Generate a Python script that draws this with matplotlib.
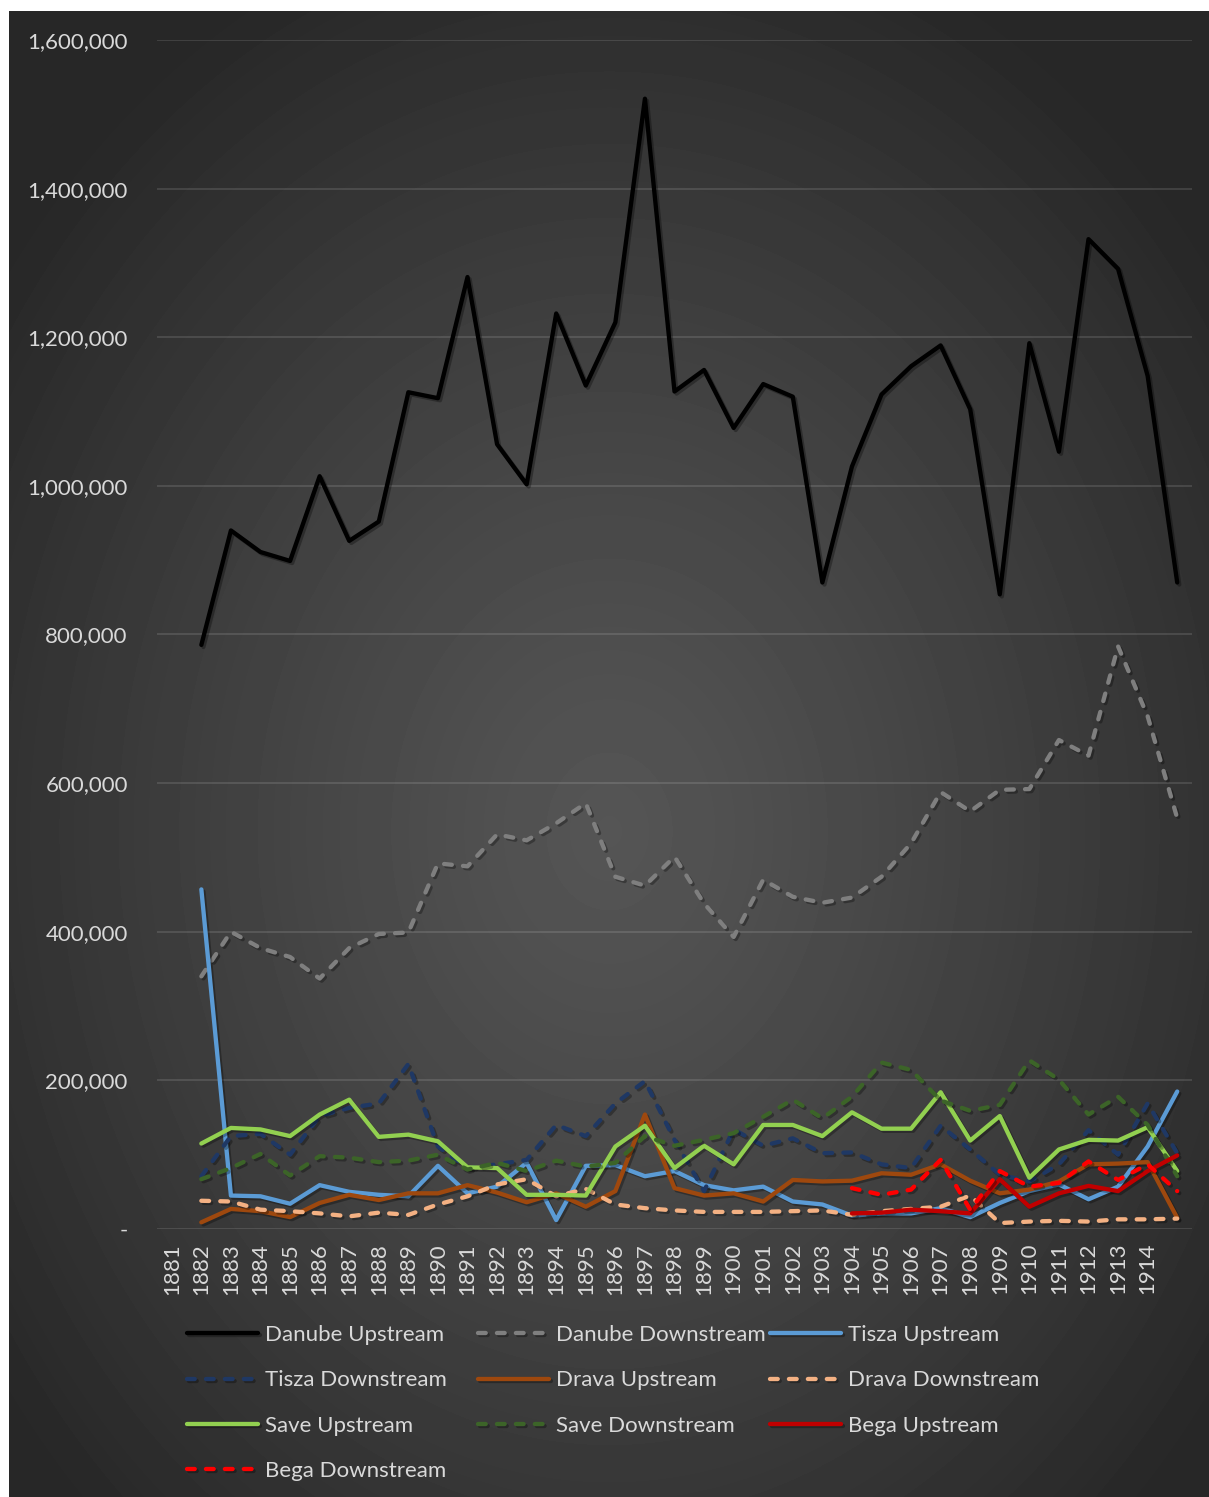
import numpy as np
import matplotlib
matplotlib.use("Agg")
import matplotlib.pyplot as plt
import matplotlib.patheffects as pe
from matplotlib.ticker import FuncFormatter

plt.rcParams['font.family'] = ['Lato', 'DejaVu Sans']

# categories: labels 1881..1914, last slot unlabeled; data sits on 1882..last slot
tick_labels = [str(y) for y in range(1881, 1915)] + ['']
n_cat = len(tick_labels)

danube_up = [786, 940, 911, 899, 1013, 926, 952, 1126, 1118, 1281, 1056, 1002,
             1232, 1135, 1220, 1521, 1127, 1156, 1078, 1137, 1120, 870, 1026,
             1123, 1161, 1189, 1103, 854, 1192, 1046, 1332, 1292, 1148, 870]
danube_down = [340, 400, 378, 366, 337, 378, 397, 399, 492, 488, 531, 523,
               546, 573, 474, 462, 501, 438, 393, 470, 447, 439, 446, 474,
               519, 588, 562, 591, 592, 658, 637, 784, 690, 553]
tisza_up = [457, 45, 44, 34, 59, 50, 46, 44, 85, 48, 57, 89,
            12, 85, 86, 71, 78, 59, 52, 57, 37, 33, 18, 21,
            21, 28, 16, 35, 51, 60, 40, 57, 111, 185]
tisza_down = [71, 125, 128, 100, 152, 163, 169, 222, 111, 82, 87, 93,
              140, 125, 169, 199, 120, 51, 134, 112, 122, 102, 103, 87,
              82, 139, 107, 73, 64, 87, 133, 100, 169, 102]
drava_up = [9, 27, 24, 16, 35, 46, 39, 48, 48, 59, 49, 36,
            48, 30, 51, 154, 55, 45, 48, 37, 66, 64, 65, 75,
            73, 87, 65, 48, 53, 64, 87, 88, 90, 15]
drava_down = [38, 37, 26, 24, 21, 17, 22, 19, 33, 44, 60, 67,
              44, 54, 33, 28, 25, 23, 23, 23, 24, 25, 19, 24,
              27, 30, 45, 8, 10, 11, 10, 13, 13, 14]
save_up = [115, 136, 134, 125, 154, 174, 124, 127, 118, 83, 82, 46,
           46, 45, 111, 139, 82, 112, 87, 140, 140, 125, 157, 135,
           135, 184, 119, 152, 69, 107, 120, 119, 137, 78]
save_down = [67, 82, 101, 72, 98, 96, 90, 92, 100, 80, 89, 78,
             92, 84, 89, 125, 112, 120, 129, 151, 174, 149, 178, 224,
             214, 173, 159, 167, 227, 201, 154, 178, 140, 71]
# Bega only from 1904 onward
bega_up = [21, 22, 26, 24, 21, 67, 30, 48, 58, 51, 78, 99]
bega_down = [55, 46, 53, 93, 26, 78, 57, 62, 91, 66, 87, 51]

series = [
    ('Danube Upstream', danube_up, '#000000', '-'),
    ('Danube Downstream', danube_down, '#7F7F7F', '--'),
    ('Tisza Upstream', tisza_up, '#5B9BD5', '-'),
    ('Tisza Downstream', tisza_down, '#1F3864', '--'),
    ('Drava Upstream', drava_up, '#9E480E', '-'),
    ('Drava Downstream', drava_down, '#F4B183', '--'),
    ('Save Upstream', save_up, '#92D050', '-'),
    ('Save Downstream', save_down, '#3C6428', '--'),
    ('Bega Upstream', bega_up, '#C00000', '-'),
    ('Bega Downstream', bega_down, '#FF0000', '--'),
]

W, H = 1209, 1497
fig = plt.figure(figsize=(W / 100, H / 100), dpi=100)
fig.patch.set_facecolor('white')

# dark radial background
bg = fig.add_axes([9 / W, 0, 1 - 9 / W, 1 - 11 / H])
bg.set_axis_off()
yy, xx = np.mgrid[0:H - 11, 0:W - 9]
r = np.sqrt(((xx - 600) / 760.0) ** 2 + ((yy - 820) / 950.0) ** 2)
shade = (0x55 - (0x55 - 0x27) * np.clip(r, 0, 1) ** 1.2) / 255.0
bg.imshow(shade, cmap='gray', vmin=0, vmax=1, aspect='auto', interpolation='bilinear')

ax = fig.add_axes([157 / W, 1 - 1229 / H, (1192 - 157) / W, (1229 - 40) / H])
ax.set_facecolor('none')

x_all = np.arange(n_cat)
shadow = [pe.SimpleLineShadow(offset=(1.5, -1.5), shadow_color='black', alpha=0.3), pe.Normal()]
lines = []
for name, vals, color, ls in series:
    vals = np.array(vals, dtype=float) * 1000
    xs = x_all[n_cat - len(vals):]
    kw = dict(color=color, lw=3.1, label=name, path_effects=shadow,
              solid_joinstyle='round', solid_capstyle='round')
    if ls == '--':
        kw.update(linestyle=(0, (1.8, 2.6)), dash_capstyle='round', dash_joinstyle='round')
    ln, = ax.plot(xs, vals, **kw)
    lines.append(ln)

ax.set_xlim(-0.5, n_cat - 0.5)
ax.set_ylim(0, 1600000)
ax.set_yticks(range(0, 1600001, 200000))
ax.yaxis.set_major_formatter(FuncFormatter(lambda v, p: '-' if v == 0 else f'{int(v):,}'))
ax.set_xticks(x_all)
ax.set_xticklabels(tick_labels, rotation=90)
ax.tick_params(axis='y', length=0, pad=21, labelcolor='#D9D9D9', labelsize=16)
ax.tick_params(axis='x', length=0, pad=10, labelcolor='#D9D9D9', labelsize=16)
for s in ax.spines.values():
    s.set_visible(False)
ax.yaxis.grid(True, color='white', alpha=0.13, lw=1.3)
ax.set_axisbelow(True)

# Excel legend: row by row, equal column widths
col_x = [187, 478, 770]
for c in range(3):
    idx = list(range(c, len(series), 3))
    fig.legend([lines[i] for i in idx], [series[i][0] for i in idx],
               loc='upper left', bbox_to_anchor=(col_x[c] / W, 1 - 1325 / H),
               frameon=False, fontsize=16, labelcolor='#D9D9D9', handlelength=3.2,
               handletextpad=0.3, labelspacing=1.14, borderpad=0, borderaxespad=0)

fig.savefig('out.png', dpi=100)
